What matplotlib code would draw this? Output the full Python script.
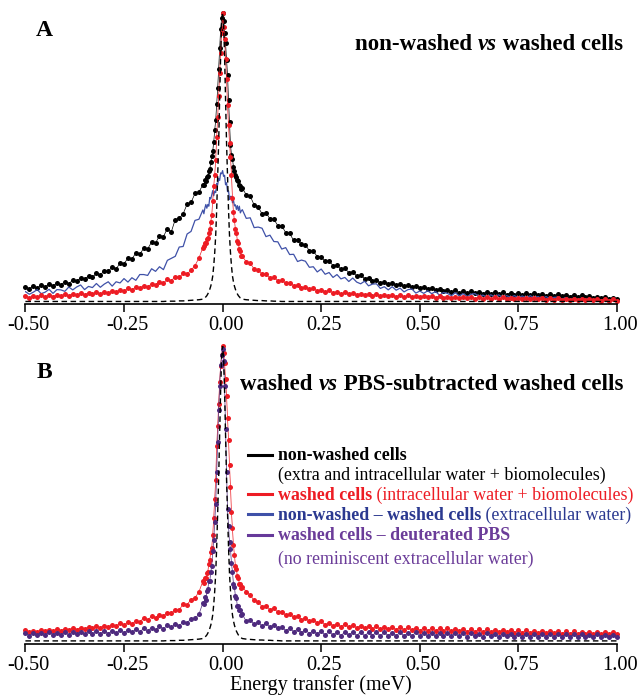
import matplotlib
matplotlib.use("Agg")
import matplotlib.pyplot as plt
from matplotlib.transforms import ScaledTranslation
import numpy as np

plt.rcParams['font.family'] = ['Liberation Serif', 'DejaVu Serif']
plt.rcParams['axes.unicode_minus'] = False

# energy grid (meV): 0.01 steps in the wings, 0.0025 steps around the elastic peak
energy = np.round(np.concatenate([np.arange(-0.50, -0.055, 0.01),
                                  np.arange(-0.05, 0.049, 0.0025),
                                  np.arange(0.05, 1.005, 0.01)]), 4)

# instrument resolution (dashed), normalised to peak
resolution = [
    .002, .002, .002, .002, .002, .002, .002, .002, .002, .002,
    .002, .002, .002, .002, .002, .002, .002, .002, .002, .002,
    .002, .002, .002, .002, .002, .002, .002, .002, .002, .002,
    .002, .002, .002, .002, .002, .002, .003, .003, .003, .004,
    .004, .005, .006, .007, .008,
    .010, .012, .014, .018, .022, .028, .035, .044, .055, .070,
    .090, .125, .170, .230, .320, .430, .550, .700, .850, .960,
    1.00, .960, .850, .700, .550, .430, .320, .230, .170, .125,
    .090, .070, .055, .044, .035, .028, .022, .018, .014, .012,
    .010, .008, .007, .006, .005, .005, .004, .004, .003, .003,
    .002, .002, .002, .002, .002, .002, .002, .002, .002, .002,
    .002, .002, .002, .002, .002, .002, .002, .002, .002, .002,
    .002, .002, .002, .002, .002, .002, .002, .002, .002, .002,
    .002, .002, .002, .002, .002, .002, .002, .002, .002, .002,
    .002, .002, .002, .002, .002, .002, .002, .002, .002, .002,
    .002, .002, .002, .002, .002, .002, .002, .002, .002, .002,
    .002, .002, .002, .002, .002, .002, .002, .002, .002, .002,
    .002, .002, .002, .002, .002, .002, .002, .002, .002, .002,
    .002, .002, .002, .002, .002, .002,
]

# panel A
nonwashed = [
    .052, .046, .055, .049, .058, .053, .061, .056, .066, .060,
    .070, .064, .075, .071, .084, .079, .090, .086, .099, .094,
    .108, .106, .121, .113, .136, .133, .151, .149, .169, .165,
    .186, .184, .207, .204, .229, .226, .254, .243, .285, .289,
    .305, .338, .344, .375, .380,
    .405, .404, .420, .418, .433, .436, .452, .458, .483, .503,
    .522, .552, .594, .628, .684, .738, .804, .876, .942, .981,
    1.00, .972, .928, .893, .836, .784, .697, .623, .543, .508,
    .494, .468, .452, .438, .433, .420, .418, .405, .402, .392,
    .394, .370, .366, .335, .328, .305, .309, .287, .286, .264,
    .263, .240, .237, .213, .216, .199, .198, .177, .176, .157,
    .156, .141, .142, .126, .128, .113, .116, .102, .104, .090,
    .093, .081, .084, .073, .075, .066, .070, .062, .066, .058,
    .063, .055, .059, .052, .056, .049,
    .053, .045, .050, .042, .046, .039, .043, .035, .040, .032,
    .038, .031, .037, .030, .036, .029, .035, .028, .034, .027,
    .033, .026, .032, .025, .031,
    .025, .030, .024, .030, .023, .029, .022, .028, .021, .027,
    .020, .026, .019, .025, .018,
    .023, .016, .021, .015, .019, .013, .017, .011, .015, .010,
]

washed = [
    .021, .014, .022, .016, .023, .018, .025, .019, .026, .020,
    .028, .022, .029, .023, .031, .025, .032, .027, .034, .028,
    .036, .031, .039, .034, .043, .038, .048, .042, .052, .047,
    .057, .052, .063, .059, .070, .066, .078, .074, .088, .085,
    .099, .097, .110, .126, .152,
    .188, .193, .204, .205, .218, .222, .240, .252, .278, .300,
    .350, .400, .440, .490, .570, .640, .710, .790, .860, .930,
    1.00, .950, .910, .840, .770, .680, .610, .550, .500, .440,
    .360, .310, .282, .252, .238, .212, .203, .182, .175, .159,
    .158, .139, .134, .114, .111, .097, .096, .084, .085, .074,
    .075, .065, .067, .057, .059, .049, .052, .044, .047, .039,
    .043, .036, .040, .032, .036, .028, .033, .027, .031, .025,
    .029, .023, .028, .022, .027, .021, .026, .020, .025, .019,
    .024, .018, .023, .017, .022, .016,
    .021, .016, .020, .015, .020, .014, .019, .014, .018, .013,
    .018, .013, .017, .012, .017, .012, .016, .011, .016, .011,
    .016, .011, .015, .010, .015,
    .010, .015, .009, .014, .009, .014, .008, .013, .008, .013,
    .008, .012, .007, .012, .007,
    .011, .006, .011, .006, .010, .005, .010, .005, .009, .005,
]

difference = [
    .036, .027, .034, .043, .029, .034, .044, .030, .043, .042,
    .037, .052, .042, .052, .059, .043, .054, .050, .064, .051,
    .062, .070, .055, .070, .066, .081, .069, .084, .075, .095,
    .095, .092, .115, .106, .122, .112, .144, .151, .158, .190,
    .192, .235, .244, .282, .286,
    .318, .305, .324, .337, .324, .337, .331, .361, .356, .371,
    .385, .367, .383, .378, .410, .405, .427, .420, .446, .443,
    .454, .434, .438, .405, .412, .381, .384, .354, .365, .365,
    .343, .352, .332, .336, .320, .333, .316, .331, .308, .315,
    .319, .289, .291, .257, .259, .255, .226, .231, .209, .208,
    .183, .188, .164, .165, .140, .145, .141, .120, .122, .104,
    .114, .096, .102, .085, .095, .080, .085, .071, .083, .069,
    .063, .072, .056, .062, .063, .047, .053, .042, .053, .041,
    .048, .035, .043, .045, .031, .038,
    .030, .039, .029, .036, .024, .033, .030, .022, .032, .022,
    .029, .019, .027, .029, .019, .024, .017, .025, .018, .025,
    .016, .022, .017, .022, .015,
    .021, .013, .022, .014, .019, .011, .019, .011, .016, .017,
    .010, .015, .008, .013, .008,
    .013, .008, .013, .006, .011, .005, .011, .006, .009, .004,
]

# panel B
washed_b = [
    .038, .031, .037, .033, .039, .034, .040, .035, .042, .037,
    .043, .038, .045, .040, .047, .042, .049, .044, .051, .047,
    .054, .049, .057, .052, .061, .055, .066, .059, .071, .066,
    .080, .073, .085, .080, .091, .087, .098, .095, .107, .106,
    .128, .125, .142, .148, .168,
    .204, .199, .214, .216, .233, .236, .263, .276, .304, .318,
    .362, .418, .483, .548, .662, .728, .803, .878, .934, .968,
    1.00, .976, .942, .887, .832, .758, .683, .597, .524, .437,
    .383, .326, .293, .256, .244, .221, .214, .196, .193, .181,
    .186, .168, .157, .139, .134, .118, .121, .108, .112, .099,
    .101, .089, .093, .082, .086, .074, .080, .068, .074, .063,
    .068, .057, .063, .053, .060, .050, .058, .048, .056, .046,
    .054, .044, .052, .043, .051, .042, .050, .041, .049, .040,
    .049, .039, .048, .038, .047, .037,
    .046, .037, .045, .036, .045, .035, .044, .035, .043, .034,
    .043, .033, .042, .033, .041, .032, .041, .032, .040, .031,
    .039, .031, .039, .030, .038,
    .030, .038, .029, .037, .029, .036, .028, .036, .028, .035,
    .027, .034, .027, .034, .026,
    .033, .026, .033, .025, .032, .025, .031, .024, .031, .026,
]

pbs_subtracted = [
    .028, .020, .029, .021, .030, .022, .031, .023, .030, .022,
    .031, .023, .032, .024, .033, .024, .034, .025, .034, .026,
    .035, .027, .036, .028, .038, .029, .039, .031, .041, .033,
    .044, .036, .047, .039, .051, .043, .055, .048, .059, .053,
    .066, .064, .076, .078, .092,
    .131, .128, .151, .142, .172, .176, .205, .204, .236, .255,
    .305, .344, .405, .466, .572, .676, .784, .866, .935, .968,
    .990, .948, .864, .718, .573, .448, .392, .336, .314, .264,
    .236, .195, .184, .153, .146, .119, .121, .106, .105, .089,
    .092, .068, .074, .058, .066, .052, .061, .049, .056, .045,
    .050, .036, .046, .033, .042, .030, .040, .027, .037, .026,
    .035, .022, .034, .021, .033, .020, .032, .021, .033, .020,
    .032, .019, .031, .020, .032, .019, .031, .020, .030, .019,
    .031, .018, .030, .019, .031, .018,
    .030, .019, .029, .018, .030, .017, .029, .018, .028, .017,
    .029, .016, .028, .017, .027, .016, .028, .017, .027, .016,
    .026, .017, .027, .016, .026,
    .015, .026, .016, .025, .015, .026, .016, .025, .015, .024,
    .016, .025, .015, .024, .014,
    .024, .015, .023, .014, .024, .015, .023, .014, .022, .015,
]

for s in (resolution, nonwashed, washed, difference, washed_b, pbs_subtracted):
    assert len(s) == len(energy)

ticks = [-0.50, -0.25, 0.00, 0.25, 0.50, 0.75, 1.00]

RED = '#ED1C24'
BLUE = '#3F51A8'
BLUE_TXT = '#2B3990'
PURPLE = '#4E2A7E'
PURPLE_TXT = '#6B3C99'

W, H = 638, 695
fig = plt.figure(figsize=(W / 100, H / 100), dpi=100)


def fx(px):
    return px / W


def fy(py):
    return 1 - py / H


def style(ax, ymin):
    ax.set_xlim(-0.5, 1.0)
    ax.set_ylim(ymin, 1.0)
    for side in ('top', 'right', 'left'):
        ax.spines[side].set_visible(False)
    ax.spines['bottom'].set_linewidth(1.2)
    ax.set_yticks([])
    ax.set_xticks(ticks)
    ax.set_xticklabels(['%.2f' % t for t in ticks])
    ax.tick_params(axis='x', direction='out', length=6, width=1.1,
                   labelsize=14.7, pad=3)
    # labels in the original sit a few pixels right of their ticks
    shift = ScaledTranslation(3 / 100, 0, fig.dpi_scale_trans)
    for lab in ax.get_xticklabels():
        lab.set_transform(lab.get_transform() + shift)
    ax.patch.set_alpha(0)


dots = dict(lw=0.5, ms=3.6, mew=0, clip_on=False)

# panel A
axA = fig.add_axes([fx(25.4), fy(303.5), fx(617) - fx(25.4), (303.5 - 12.5) / H])
style(axA, -0.005)
axA.plot(energy, nonwashed, '-o', color='black', **dots)
axA.plot(energy, difference, '-', color=BLUE, lw=0.9)
axA.plot(energy, washed, '-o', color=RED, **dots)
axA.plot(energy, resolution, '--', color='black', lw=1.0, dashes=(4, 2.5))

# panel B
axB = fig.add_axes([fx(25.4), fy(644), fx(617) - fx(25.4), (644 - 346) / H])
style(axB, -0.0085)
axB.plot(energy, washed_b, '-o', color=RED, **dots)
axB.plot(energy, pbs_subtracted, '-o', color=PURPLE, **dots)
axB.plot(energy, resolution, '--', color='black', lw=1.0, dashes=(4, 2.5))
axB.set_xlabel('Energy transfer (meV)', fontsize=14.5, labelpad=0)

# panel letters
fig.text(fx(44), fy(30), 'A', fontsize=17, fontweight='bold', ha='center', va='center')
fig.text(fx(44), fy(373), 'B', fontsize=17, fontweight='bold', ha='center', va='center')


def title_right(x, y, left, right):
    # bold title with italic "vs", right aligned at x
    t3 = fig.text(fx(x), fy(y), right, fontsize=16.5, fontweight='bold',
                  ha='right', va='center')
    t2 = axA.annotate('vs', xy=(0, 0), xycoords=t3, ha='right', va='bottom',
                      fontsize=16.5, fontweight='bold', style='italic')
    axA.annotate(left, xy=(0, 0), xycoords=t2, ha='right', va='bottom',
                 fontsize=16.5, fontweight='bold')


title_right(623, 45, 'non-washed ', ' washed cells')
title_right(623, 385, 'washed ', ' PBS-subtracted washed cells')

# legend drawn by hand in panel B
rows = [
    (456, 'black', 'black', 'non-washed cells', ''),
    (475, None, 'black', '', '(extra and intracellular water + biomolecules)'),
    (495, RED, RED, 'washed cells', ' (intracellular water + biomolecules)'),
    (515, BLUE, BLUE_TXT, 'non-washed \u2013 washed cells', ' (extracellular water)'),
    (536, '#66399A', PURPLE_TXT, 'washed cells \u2013 deuterated PBS', ''),
    (559, None, PURPLE_TXT, '', '(no reminiscent extracellular water)'),
]
FS = 12.9
for y, lc, tc, bold, normal in rows:
    if lc is not None:
        fig.add_artist(plt.Line2D([fx(248), fx(272)], [fy(y - 1), fy(y - 1)],
                                  color=lc, lw=2.2, transform=fig.transFigure))
    if bold:
        tb = fig.text(fx(278), fy(y), bold, fontsize=FS, fontweight='bold',
                      color=tc, ha='left', va='center')
        if normal:
            axB.annotate(normal, xy=(1, 0), xycoords=tb, ha='left', va='bottom',
                         fontsize=FS, color=tc)
    else:
        fig.text(fx(278), fy(y), normal, fontsize=FS, color=tc,
                 ha='left', va='center')

fig.savefig('out.png', dpi=100)
